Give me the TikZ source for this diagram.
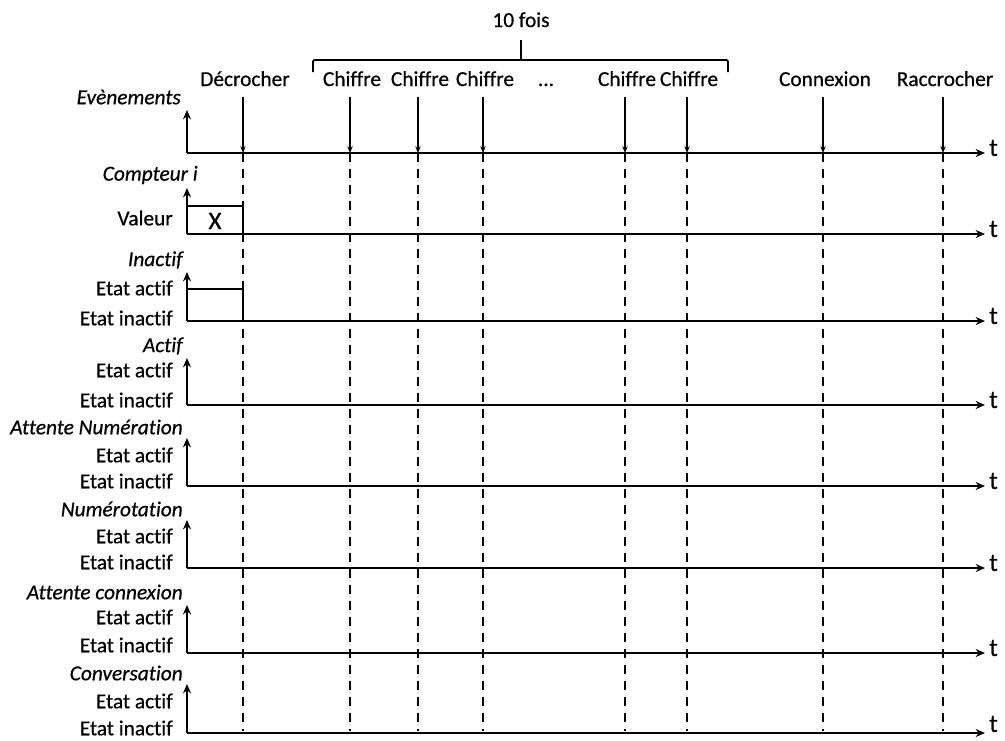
\documentclass[tikz,border=0pt]{standalone}
\usepackage{fontspec}
\setmainfont{Carlito}[Ligatures=NoCommon,FakeBold=0.6]
\usetikzlibrary{arrows.meta}

\begin{document}
\begin{tikzpicture}[x=0.75pt,y=-0.75pt,
  font=\fontsize{16}{18}\selectfont,
  axis/.style={line width=1.6pt,-{Stealth[length=7pt,width=6pt]}},
  evarrow/.style={line width=1.3pt,-{Stealth[length=5pt,width=4pt]}},
  guide/.style={line width=1.4pt,dash pattern=on 7pt off 5pt},
  sig/.style={line width=1.2pt},
  lbl/.style={anchor=east,inner sep=0pt},
  ttl/.style={anchor=east,inner sep=0pt,font=\fontsize{16}{18}\selectfont\itshape},
  evlbl/.style={inner sep=0pt,anchor=base},
  tlbl/.style={anchor=west,inner sep=0pt,font=\fontsize{19}{21}\selectfont},
]
\useasboundingbox (0,0) rectangle (1005,740);

% ---- events axis ----
\coordinate (o-ev) at (187,153);
\coordinate (e-ev) at (985,153);
\draw[axis] (o-ev) -- (187,110);
\draw[axis] (o-ev) -- (e-ev);
\node[tlbl] (t-ev) at (989,148) {t};
\node[ttl] (n-ev) at (181,97) {Evènements};

% event markers and their labels
\foreach \id/\x/\txt in {dec/243/Décrocher, c1/350/Chiffre, c2/418/Chiffre,
    c3/483/Chiffre, c4/625/Chiffre, c5/687/Chiffre,
    con/823/Connexion, rac/943/Raccrocher}{
  \node[evlbl] (l-\id) at (\x+2,86) {\txt};
  \coordinate (top-\id) at (\x,97);
  \coordinate (ev-\id) at (\x,153);
  \coordinate (bot-\id) at (\x,731);
  \draw[evarrow] (top-\id) -- (ev-\id);
  \draw[guide] (ev-\id) -- (bot-\id);
}
\node[evlbl] (dots) at (546,86) {...};

% brace over the digit events
\coordinate (br-l) at (313,72);
\coordinate (br-r) at (728,72);
\coordinate (br-m) at (521,60);
\draw[line width=1.3pt,rounded corners=1pt] (br-l) -- (313,60) -- (728,60) -- (br-r);
\node[evlbl] (fois) at (521,27) {10 fois};
\draw[line width=1.3pt] (br-m) -- (fois.south |- 0,40);

% ---- counter ----
\coordinate (o-cpt) at (187,234);
\draw[axis] (o-cpt) -- (187,188);
\draw[axis] (o-cpt) -- (985,234);
\node[tlbl] (t-cpt) at (989,229) {t};
\node[ttl] (n-cpt) at (198,175) {Compteur i};
\node[lbl] (valeur) at (173,218) {Valeur};
\draw[sig] (187,206) -- (243,206) -- (243,234);
\node[inner sep=0pt] (xval) at (215,221) {\fontsize{19}{21}\selectfont X};

% ---- state signals ----
\foreach \id/\name/\base/\tip/\ya/\yi/\yt/\ty in {
    inact/Inactif/321/272/288/318/260/316,
    act/Actif/405/358/370/400/346/400,
    attnum/Attente Numération/486/438/455/481/427/481,
    num/Numérotation/568/520/536/562/509/563,
    attcon/Attente connexion/653/605/617/645/592/648,
    conv/Conversation/733/684/701/728/673/724}{
  \coordinate (o-\id) at (187,\base);
  \draw[axis] (o-\id) -- (187,\tip);
  \draw[axis] (o-\id) -- (985,\base);
  \node[tlbl] (t-\id) at (989,\ty) {t};
  \node[ttl] (n-\id) at (183,\yt) {\name};
  \node[lbl] (a-\id) at (173,\ya) {Etat actif};
  \node[lbl] (i-\id) at (173,\yi) {Etat inactif};
}

% "Inactif" is active until the handset is lifted
\draw[sig] (187,289) -- (243,289) -- (243,321);
\end{tikzpicture}
\end{document}
